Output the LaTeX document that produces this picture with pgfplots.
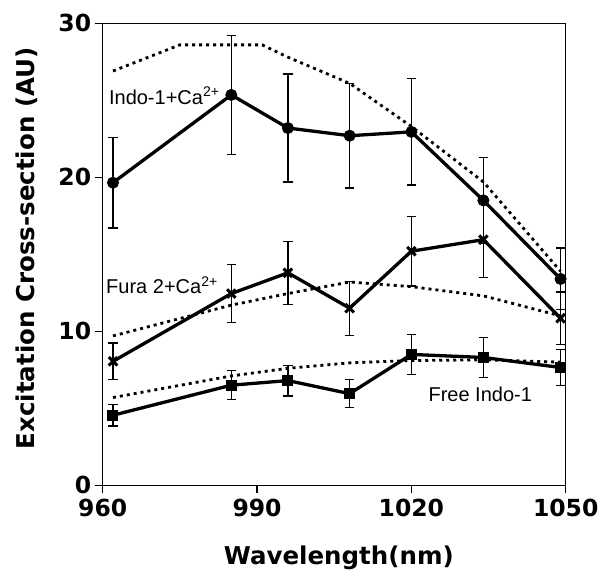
\documentclass[border=0pt]{standalone}
\usepackage{pgfplots}
\pgfplotsset{compat=1.18}
\usepackage{fontspec}
\setmainfont{Liberation Sans}
\newfontfamily\dvs{DejaVu Sans}
\begin{document}
\begin{tikzpicture}
\begin{axis}[name=ax, scale only axis, width=463pt, height=462pt,
 xmin=960, xmax=1050, ymin=0, ymax=30,
 xtick={960,990,1020,1050}, ytick={0,10,20,30},
 xtick pos=lower, ytick pos=left, tick align=outside,
 major tick length=8pt, minor tick num=0,
 /pgf/number format/assume math mode=true, /pgf/number format/1000 sep={},
 tick label style={font=\dvs\bfseries\fontsize{23.5}{23.5}\selectfont},
 xticklabel style={yshift=-2pt},
 label style={font=\dvs\bfseries\fontsize{24.5}{24.5}\selectfont},
 xlabel={Wavelength(nm)}, ylabel={Excitation Cross-section (AU)},
 xlabel style={at={(axis description cs:0.51,0)}, anchor=base, yshift=-79pt},
 ylabel style={at={(axis description cs:-0.1635,0.513)}, anchor=center},
 axis line style={line width=1.1pt}, tick style={line width=1.1pt, black},
 clip=false,
 error bars/error bar style={line width=1.3pt},
 error bars/error mark options={rotate=90, mark size=4.6pt, line width=1.3pt},
]
% theory (dotted)
\addplot[black, line width=2.8pt, dash pattern=on 3pt off 4pt, no marks] coordinates {
 (962,26.9) (975,28.6) (991,28.6) (996,27.8) (1008,26.1) (1020,23.3) (1034,19.7) (1049,13.9)};
\addplot[black, line width=2.8pt, dash pattern=on 3pt off 4pt, no marks] coordinates {
 (962,9.7) (985,11.7) (996,12.45) (1008,13.2) (1020,12.9) (1034,12.3) (1049,11.0)};
\addplot[black, line width=2.8pt, dash pattern=on 3pt off 4pt, no marks] coordinates {
 (962,5.7) (985,7.1) (996,7.6) (1008,7.95) (1020,8.1) (1034,8.15) (1049,8.0)};
% Indo-1 + Ca
\addplot[black, line width=3.3pt, mark=*, mark size=5.5pt, mark options={solid, line width=1pt},
 error bars/.cd, y dir=both, y explicit] coordinates {
 (962,19.65) +- (0,2.95)
 (985,25.35) +- (0,3.85)
 (996,23.2) +- (0,3.5)
 (1008,22.7) +- (0,3.4)
 (1020,22.95) +- (0,3.45)
 (1034,18.5) +- (0,2.8)
 (1049,13.4) +- (0,2.0)};
% Fura 2 + Ca
\addplot[black, line width=3.3pt, mark=x, mark size=6pt, mark options={solid, line width=3pt},
 error bars/.cd, y dir=both, y explicit] coordinates {
 (962,8.05) +- (0,1.2)
 (985,12.45) +- (0,1.9)
 (996,13.8) +- (0,2.05)
 (1008,11.5) +- (0,1.75)
 (1020,15.2) +- (0,2.25)
 (1034,15.95) +- (0,2.45)
 (1049,10.85) +- (0,1.7)};
% Free Indo-1
\addplot[black, line width=3.3pt, mark=square*, mark size=5pt, mark options={solid, line width=1pt},
 error bars/.cd, y dir=both, y explicit] coordinates {
 (962,4.55) +- (0,0.7)
 (985,6.5) +- (0,0.95)
 (996,6.8) +- (0,1.0)
 (1008,5.95) +- (0,0.9)
 (1020,8.5) +- (0,1.3)
 (1034,8.3) +- (0,1.28)
 (1049,7.65) +- (0,1.15)};
\node[anchor=base west, font=\fontsize{20}{20}\selectfont, inner sep=0pt] at (axis cs:961.2,24.75) {Indo-1+Ca\textsuperscript{2+}};
\node[anchor=base west, font=\fontsize{20}{20}\selectfont, inner sep=0pt] at (axis cs:960.65,12.45) {Fura 2+Ca\textsuperscript{2+}};
\node[anchor=base west, font=\fontsize{20}{20}\selectfont, inner sep=0pt] at (axis cs:1023.3,5.47) {Free Indo-1};
\end{axis}
\pgfresetboundingbox
\path[use as bounding box] ([xshift=-102.7pt,yshift=-90pt]ax.south west) rectangle ([xshift=39.3pt,yshift=23.3pt]ax.north east);
\end{tikzpicture}
\end{document}
